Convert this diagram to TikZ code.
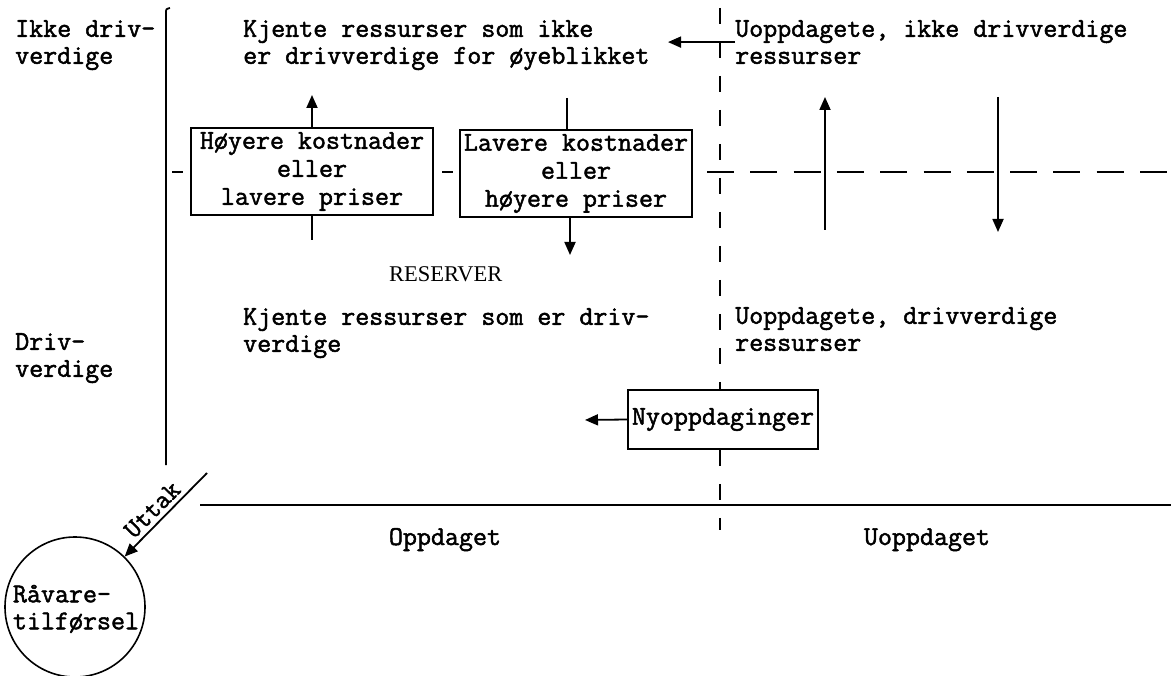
\documentclass[tikz,border=0pt]{standalone}
\usepackage{fontspec}
\setmainfont{Liberation Serif}
\newfontfamily\tw[FakeBold=1.8]{Latin Modern Mono}
\usetikzlibrary{arrows.meta,calc}
\tikzset{
  tt/.style={font=\tw\fontsize{27.2}{27}\selectfont, inner sep=0pt, align=left},
  boxtxt/.style={draw, line width=1.8pt, inner sep=0pt, align=center,
    font=\tw\fontsize{27.2}{28}\selectfont},
  ln/.style={line width=1.8pt},
  arr/.style={ln, -{Triangle[length=13pt,width=11pt]}},
  dsh/.style={ln, dash pattern=on 16pt off 18pt},
  hdsh/.style={ln, dash pattern=on 27pt off 16.3pt}
}
\begin{document}
\begin{tikzpicture}[x=1pt,y=-1pt]
\fill[white] (0,0) rectangle (1171,676);
\useasboundingbox (0,0) rectangle (1171,676);

% texts
\node[tt, anchor=north west] (ikA) at (15,20) {Ikke driv-\\verdige};
\node[tt, anchor=north west] (kjA) at (243,20) {Kjente ressurser som ikke\\er drivverdige for øyeblikket};
\node[tt, anchor=north west] (uoA) at (735,20) {Uoppdagete, ikke drivverdige\\ressurser};
\node[tt, anchor=north west] (kjB) at (243,308) {Kjente ressurser som er driv-\\verdige};
\node[tt, anchor=north west] (uoB) at (735,307) {Uoppdagete, drivverdige\\ressurser};
\node[tt, anchor=north west] (dvB) at (15,333) {Driv-\\verdige};
\node[font=\fontsize{22.5}{24}\selectfont, inner sep=0pt, anchor=base west] (res) at (389,282) {RESERVER};
\node[tt, anchor=base] (opp) at (445,545) {Oppdaget};
\node[tt, anchor=base] (uopp) at (927,545) {Uoppdaget};

% boxes
\node[boxtxt, minimum width=242pt, minimum height=87pt] (b1) at (312,171.5) {Høyere kostnader\\eller\\lavere priser};
\node[boxtxt, minimum width=232pt, minimum height=87pt] (b2) at (576,173.5) {Lavere kostnader\\eller\\høyere priser};
\node[boxtxt, minimum width=190pt, minimum height=59pt] (ny) at (723,419.5) {Nyoppdaginger};

% circle
\node[draw, circle, line width=1.6pt, minimum size=140pt, inner sep=0pt] (circ) at (75,607) {};
\node[tt] (circT) at (76,609) {Råvare-\\tilførsel};

% coordinates
\coordinate (tipA) at (668,43);
\coordinate (b1up) at (312,95);
\coordinate (b1dn) at (312,240);
\coordinate (b2t) at (567,98);
\coordinate (b2d) at (570,255);
\coordinate (nyL) at (585,420);
\coordinate (r1s) at (825,230);
\coordinate (r1e) at (825,97);
\coordinate (r2s) at (998,97);
\coordinate (r2e) at (998,232);
\coordinate (uS) at (207,473);
\coordinate (vtop) at (720,8);
\coordinate (vbot) at (720,530);

% axes
\draw[ln] (166,465) -- (166,13) .. controls (166,9) .. (170,8);
\draw[ln] (200,505) -- (1171,505);

% dashed separators
\draw[dsh] (vtop) -- (vtop |- ny.north);
\draw[dsh] (vbot |- ny.south) -- (vbot);
\draw[hdsh] (707,172) -- (1171,172);
\draw[ln] (172,172) -- (183,172);
\draw[ln] (442,172) -- (453,172);

% connectors
\draw[arr] (uoA.west) -- (uoA.west -| tipA);
\draw[arr] (b1.north) -- (b1up);
\draw[ln] (b1.south) -- (b1dn);
\draw[ln] (b2t) -- (b2t |- b2.north);
\draw[arr] (b2d |- b2.south) -- (b2d);
\draw[arr] (ny.west) -- (nyL);
\draw[arr] (r1s) -- (r1e);
\draw[arr] (r2s) -- (r2e);
\draw[arr] (uS) -- (circ) node[pos=0.55, sloped, above=3pt, inner sep=1pt, font=\tw\fontsize{26.5}{26.5}\selectfont] {Uttak};
\end{tikzpicture}
\end{document}
